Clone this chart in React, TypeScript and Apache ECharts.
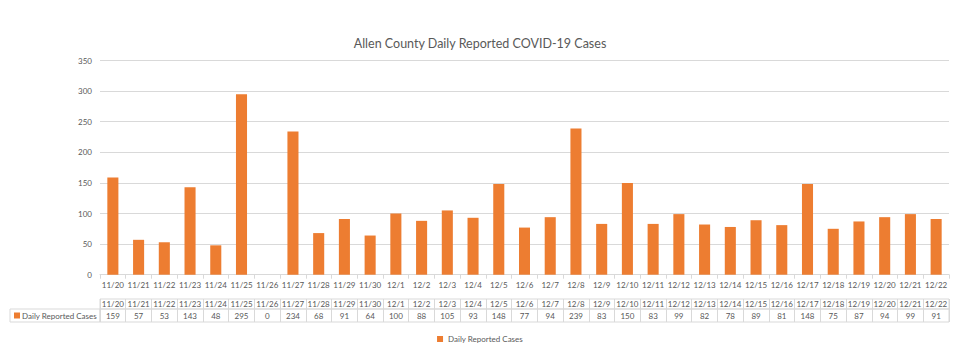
import React, { useEffect, useRef } from "react";
import * as echarts from "echarts";

const TITLE = "Allen County Daily Reported COVID-19 Cases";
const SERIES_NAME = "Daily Reported Cases";
const categories = [
  "11/20", "11/21", "11/22", "11/23", "11/24", "11/25", "11/26", "11/27", "11/28", "11/29", "11/30",
  "12/1", "12/2", "12/3", "12/4", "12/5", "12/6", "12/7", "12/8", "12/9", "12/10", "12/11",
  "12/12", "12/13", "12/14", "12/15", "12/16", "12/17", "12/18", "12/19", "12/20", "12/21", "12/22",
];
const cases = [
  159, 57, 53, 143, 48, 295, 0, 234, 68, 91, 64,
  100, 88, 105, 93, 148, 77, 94, 239, 83, 150, 83,
  99, 82, 78, 89, 81, 148, 75, 87, 94, 99, 91,
];
const yTicks = { min: 0, max: 350, interval: 50 };

const TEXT = "#595959";
const GRIDLINE = "#d9d9d9";
const BAR = "#ED7D31";
const FONT = "Lato, 'Open Sans', sans-serif";
const FS = 8;

export default function App() {
  const ref = useRef<HTMLDivElement>(null);
  useEffect(() => {
    if (!ref.current) return;
    const chart = echarts.init(ref.current, undefined, { renderer: "svg" });
    const left = 100;
    const right = 11;
    chart.setOption({
      animation: false,
      textStyle: { fontFamily: FONT, color: TEXT },
      title: {
        text: TITLE,
        left: "center",
        top: 32,
        textStyle: { fontFamily: FONT, fontSize: 12.5, fontWeight: "normal", color: TEXT },
      },
      legend: {
        bottom: 16,
        left: "center",
        icon: "rect",
        itemWidth: 6,
        itemHeight: 6,
        itemGap: 4,
        data: [SERIES_NAME],
        textStyle: { fontFamily: FONT, fontSize: FS, color: TEXT },
      },
      grid: [
        { left, right, top: 60.5, bottom: 89.3 },
        { left, right, top: 299, height: 10, show: true, borderColor: GRIDLINE, borderWidth: 1 },
        { left, right, top: 309, height: 13, show: true, borderColor: GRIDLINE, borderWidth: 1 },
      ],
      xAxis: [
        {
          type: "category",
          gridIndex: 0,
          data: categories,
          axisLine: { lineStyle: { color: GRIDLINE } },
          axisTick: { show: true, length: 4, lineStyle: { color: GRIDLINE } },
          axisLabel: { interval: 0, fontSize: FS, color: TEXT, margin: 6, fontFamily: FONT },
        },
        {
          type: "category",
          gridIndex: 1,
          data: categories,
          position: "top",
          axisLine: { show: false },
          axisTick: { show: false },
          splitLine: { show: true, interval: 0, lineStyle: { color: GRIDLINE } },
          axisLabel: { interval: 0, inside: true, fontSize: FS, color: TEXT, margin: 1, fontFamily: FONT },
        },
        {
          type: "category",
          gridIndex: 2,
          data: categories,
          position: "top",
          axisLine: { show: false },
          axisTick: { show: false },
          splitLine: { show: true, interval: 0, lineStyle: { color: GRIDLINE } },
          axisLabel: {
            interval: 0,
            inside: true,
            fontSize: FS,
            color: TEXT,
            margin: 2.5,
            fontFamily: FONT,
            formatter: (_v: string, i: number) => String(cases[i]),
          },
        },
      ],
      yAxis: [
        {
          type: "value",
          gridIndex: 0,
          min: yTicks.min,
          max: yTicks.max,
          interval: yTicks.interval,
          axisLine: { show: false },
          axisTick: { show: false },
          axisLabel: { fontSize: FS, color: TEXT, margin: 8, fontFamily: FONT },
          splitLine: { lineStyle: { color: GRIDLINE } },
        },
        { type: "value", gridIndex: 1, show: false },
        { type: "value", gridIndex: 2, show: false },
      ],
      series: [
        {
          name: SERIES_NAME,
          type: "bar",
          xAxisIndex: 0,
          yAxisIndex: 0,
          data: cases,
          barWidth: "43%",
          itemStyle: { color: BAR },
        },
      ],
      graphic: [
        {
          type: "rect",
          shape: { x: 10, y: 309, width: 90, height: 13 },
          style: { fill: "none", stroke: GRIDLINE, lineWidth: 1 },
        },
        {
          type: "rect",
          shape: { x: 14, y: 312.5, width: 6, height: 6 },
          style: { fill: BAR },
        },
        {
          type: "text",
          x: 22,
          y: 315.5,
          style: { text: SERIES_NAME, fontSize: FS, fill: TEXT, fontFamily: FONT, verticalAlign: "middle" },
        },
      ],
    });
    return () => chart.dispose();
  }, []);
  return <div ref={ref} style={{ width: 960, height: 364, position: "absolute", left: 0, top: 0 }} />;
}
